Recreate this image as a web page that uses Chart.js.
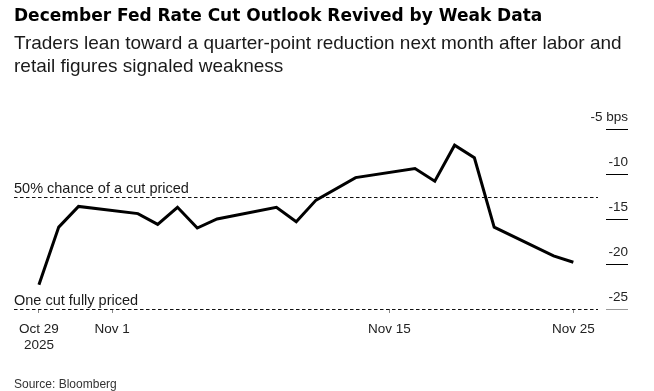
<!DOCTYPE html>
<html>
<head>
<meta charset="utf-8">
<script src="https://cdn.jsdelivr.net/npm/chart.js@4"></script>
<style>
  body { margin: 0; background: #fff; font-family: "Liberation Sans", Arial, sans-serif; }
  .wrap { position: relative; width: 654px; height: 391px; overflow: hidden; }
  canvas { position: absolute; left: 0; top: 0; }
  .title { position: absolute; left: 14px; top: 5px; font-family: "DejaVu Sans", sans-serif; font-size: 17px; line-height: 20px; font-weight: bold; color: #000; white-space: nowrap; }
  .subtitle { position: absolute; left: 14px; top: 31px; font-size: 19px; line-height: 23px; color: #1a1a1a; white-space: nowrap; }
  .source { position: absolute; left: 14px; top: 377px; font-size: 12px; line-height: 14px; color: #333; }
</style>
</head>
<body>
<div class="wrap">
  <canvas id="chart" width="654" height="391"></canvas>
  <div class="title">December Fed Rate Cut Outlook Revived by Weak Data</div>
  <div class="subtitle">Traders lean toward a quarter-point reduction next month after labor and<br>retail figures signaled weakness</div>
  <div class="source">Source: Bloomberg</div>
</div>
<script>
// days since Oct 29 2025
const days = [0, 1, 2, 5, 6, 7, 8, 9, 12, 13, 14, 16, 19, 20, 21, 22, 23, 26, 27];
const cutBps = [-22.3, -15.9, -13.6, -14.4, -15.6, -13.7, -16.0, -15.0, -13.7, -15.3,
                -12.9, -10.4, -9.4, -10.8, -6.8, -8.2, -15.9, -19.1, -19.8];

const xTickDays = [0, 3.7, 17.7, 27];
const xTickLabels = [["Oct 29", "2025"], "Nov 1", "Nov 15", "Nov 25"];
const yTicks = [-5, -10, -15, -20, -25];
const yTickLabels = ["-5 bps", "-10", "-15", "-20", "-25"];

const refValues = [-12.5, -25];
const refLabels = ["50% chance of a cut priced", "One cut fully priced"];

const font = "Liberation Sans";

const refLines = {
  id: "refLines",
  beforeDatasetsDraw(chart) {
    const { ctx, chartArea, scales } = chart;
    ctx.save();
    refValues.forEach((v, i) => {
      const y = Math.round(scales.y.getPixelForValue(v)) + 0.5;
      ctx.strokeStyle = "#111";
      ctx.lineWidth = 1.2;
      ctx.setLineDash([3.5, 2.5]);
      ctx.beginPath();
      ctx.moveTo(chartArea.left, y);
      ctx.lineTo(chartArea.right - 8, y);
      ctx.stroke();
      ctx.fillStyle = "#1a1a1a";
      ctx.font = "14.5px " + font;
      ctx.textAlign = "left";
      ctx.textBaseline = "alphabetic";
      ctx.fillText(refLabels[i], chartArea.left, y - 5);
    });
    ctx.restore();
  },
};

new Chart(document.getElementById("chart"), {
  type: "line",
  data: {
    datasets: [
      {
        data: days.map((d, i) => ({ x: d, y: cutBps[i] })),
        borderColor: "#000",
        borderWidth: 3,
        pointRadius: 0,
        tension: 0,
        borderJoinStyle: "miter",
      },
    ],
  },
  options: {
    responsive: false,
    animation: false,
    layout: { padding: { top: 129, left: 14, right: 26, bottom: 42 } },
    plugins: { legend: { display: false }, tooltip: { enabled: false } },
    scales: {
      x: {
        type: "linear",
        min: -1.26,
        max: 28.65,
        afterBuildTicks: (scale) => {
          scale.ticks = xTickDays.map((v) => ({ value: v }));
        },
        afterFit: (scale) => {
          scale.height = 40;
        },
        border: { display: false },
        grid: { drawOnChartArea: false, drawTicks: true, tickLength: 4, color: "#888" },
        ticks: {
          autoSkip: false,
          maxRotation: 0,
          padding: 8,
          color: "#222",
          font: { family: font, size: 13.5, lineHeight: 1.2 },
          callback: (value, index) => xTickLabels[index],
        },
      },
      y: {
        position: "right",
        min: -25,
        max: -5,
        afterBuildTicks: (scale) => {
          scale.ticks = yTicks.map((v) => ({ value: v }));
        },
        afterFit: (scale) => {
          scale.width = 22;
        },
        border: { display: false },
        grid: {
          drawOnChartArea: false,
          drawTicks: true,
          tickLength: 22,
          color: (c) => (c.tick && c.tick.value === -25 ? "#999" : "#000"),
        },
        ticks: {
          mirror: true,
          padding: 22,
          labelOffset: -12,
          color: "#222",
          font: { family: font, size: 13.5 },
          callback: (value, index) => yTickLabels[index],
        },
      },
    },
  },
  plugins: [refLines],
});
</script>
</body>
</html>
